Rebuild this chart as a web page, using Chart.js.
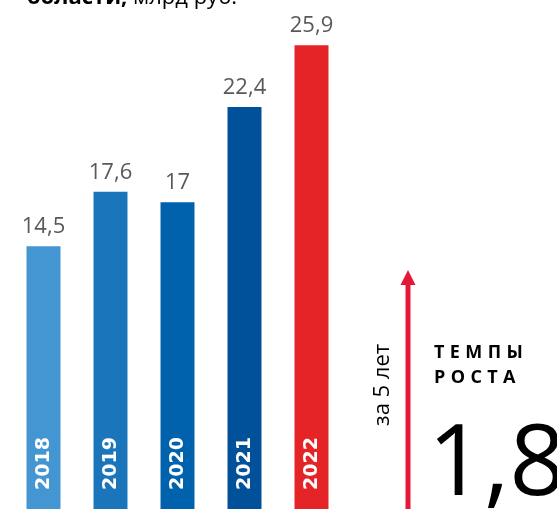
<!DOCTYPE html>
<html>
<head>
<meta charset="utf-8">
<script src="https://cdn.jsdelivr.net/npm/chart.js@4"></script>
<style>
  html, body { margin: 0; padding: 0; background: #fff; }
  #wrap { position: relative; width: 557px; height: 509px; overflow: hidden; font-family: "Open Sans", sans-serif; }
  canvas { position: absolute; left: 0; top: 0; }
  .t { position: absolute; white-space: nowrap; line-height: 1; color: #000; }
</style>
</head>
<body>
<div id="wrap">
  <canvas id="c" width="557" height="509"></canvas>
  <div class="t" style="left:27px; top:-16px; font-size:22px;"><b>области,</b> млрд руб.</div>
  <div class="t" style="left:434px; top:342px; font-size:18px; font-weight:700; letter-spacing:0.3em;">ТЕМПЫ</div>
  <div class="t" style="left:434px; top:367px; font-size:18px; font-weight:700; letter-spacing:0.3em;">РОСТА</div>
  <div class="t" style="left:368.5px; top:426px; font-size:22px; transform-origin:0 0; transform:rotate(-90deg);">за 5 лет</div>
  <div class="t" style="left:428px; top:408px; font-size:98px;">1,8</div>
</div>
<script>
const categories = ["2018", "2019", "2020", "2021", "2022"];
const values = [14.5, 17.6, 17, 22.4, 25.9];
const barColors = ["#4496d2", "#1b75bb", "#0061ac", "#00509a", "#e52428"];

const labelPlugin = {
  id: 'labels',
  afterDatasetsDraw(chart) {
    const ctx = chart.ctx;
    const meta = chart.getDatasetMeta(0);
    ctx.save();
    meta.data.forEach((bar, i) => {
      // value label
      ctx.fillStyle = '#595959';
      ctx.font = '22px "Open Sans"';
      ctx.textAlign = 'center';
      ctx.textBaseline = 'alphabetic';
      ctx.fillText(String(values[i]).replace('.', ','), bar.x, bar.y - 13);
      // year label inside bar
      ctx.save();
      ctx.translate(bar.x + 1, 490);
      ctx.rotate(-Math.PI / 2);
      ctx.fillStyle = '#ffffff';
      ctx.font = 'bold 19px "DejaVu Sans"';
      ctx.textAlign = 'left';
      ctx.textBaseline = 'middle';
      ctx.fillText(categories[i], 0, 0);
      ctx.restore();
    });
    // growth arrow
    ctx.fillStyle = '#e4193a';
    ctx.fillRect(405.5, 283, 5, 230);
    ctx.beginPath();
    ctx.moveTo(408, 270);
    ctx.lineTo(415.5, 285);
    ctx.lineTo(400.5, 285);
    ctx.closePath();
    ctx.fill();
    ctx.restore();
  }
};

new Chart(document.getElementById('c'), {
  type: 'bar',
  data: {
    labels: categories,
    datasets: [{
      data: values,
      backgroundColor: barColors,
      borderWidth: 0,
      barPercentage: 0.507,
      categoryPercentage: 1,
      base: -0.4
    }]
  },
  options: {
    responsive: false,
    animation: false,
    events: [],
    layout: { padding: { left: 10, right: 212, top: 0, bottom: 0 } },
    plugins: { legend: { display: false }, tooltip: { enabled: false } },
    scales: {
      x: { display: false },
      y: { display: false, min: -0.4, max: 28.47 }
    }
  },
  plugins: [labelPlugin]
});
</script>
</body>
</html>
